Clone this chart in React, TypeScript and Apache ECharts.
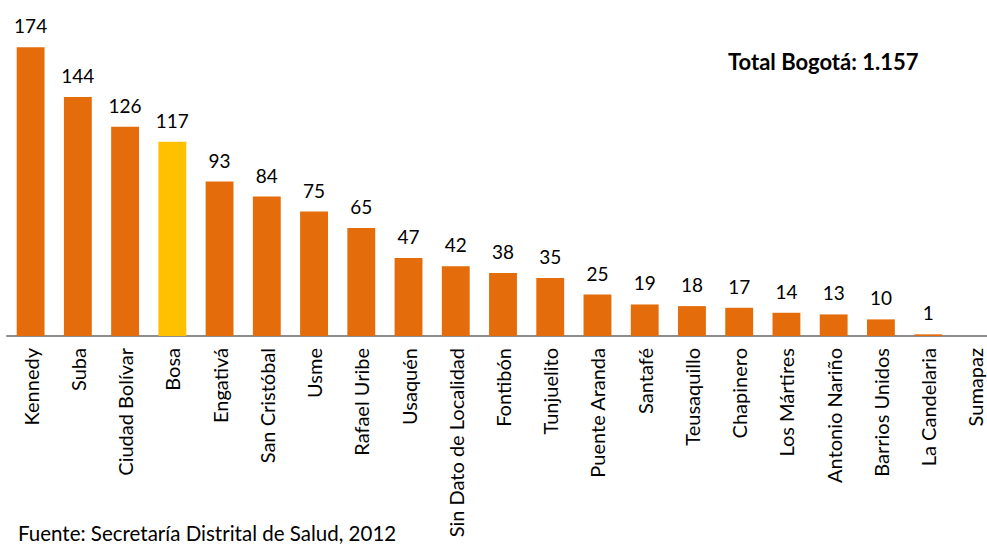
import React, { useEffect, useRef } from "react";
import * as echarts from "echarts";

const categories = [
  "Kennedy", "Suba", "Ciudad Bolívar", "Bosa", "Engativá", "San Cristóbal", "Usme",
  "Rafael Uribe", "Usaquén", "Sin Dato de Localidad", "Fontibón", "Tunjuelito",
  "Puente Aranda", "Santafé", "Teusaquillo", "Chapinero", "Los Mártires",
  "Antonio Nariño", "Barrios Unidos", "La Candelaria", "Sumapaz",
];
const values = [174, 144, 126, 117, 93, 84, 75, 65, 47, 42, 38, 35, 25, 19, 18, 17, 14, 13, 10, 1, 0];
const highlighted = "Bosa";
const totalText = "Total Bogotá: 1.157";
const sourceText = "Fuente: Secretaría Distrital de Salud, 2012";

const ORANGE = "#E46C0A";
const YELLOW = "#FFC000";
const FONT = "Lato";

export default function App() {
  const ref = useRef<HTMLDivElement>(null);
  useEffect(() => {
    document.body.style.margin = "0";
    const chart = echarts.init(ref.current!, null, { renderer: "svg" });
    chart.setOption({
      animation: false,
      backgroundColor: "#ffffff",
      grid: { left: 7, top: 4, width: 992, bottom: 210, containLabel: false, outerBoundsMode: "none" },
      xAxis: {
        type: "category",
        data: categories,
        axisLine: { show: true, lineStyle: { color: "#8c8c8c", width: 2 } },
        axisTick: { show: false },
        axisLabel: {
          rotate: 90,
          interval: 0,
          margin: 12,
          color: "#000",
          fontFamily: FONT,
          fontSize: 20,
        },
      },
      yAxis: {
        type: "value",
        min: 0,
        max: 200,
        show: false,
        splitLine: { show: false },
      },
      series: [
        {
          type: "bar",
          data: values.map((v, i) => ({
            value: v,
            itemStyle: { color: categories[i] === highlighted ? YELLOW : ORANGE },
            label: { show: v > 0 },
          })),
          barCategoryGap: "41%",
          label: {
            show: true,
            position: "top",
            distance: 12,
            color: "#000",
            fontFamily: FONT,
            fontSize: 19,
          },
        },
      ],
      graphic: [
        {
          type: "text",
          left: 728,
          top: 50,
          style: {
            text: totalText,
            fill: "#000",
            font: `bold 22px ${FONT}`,
          },
        },
        {
          type: "text",
          left: 18,
          top: 522,
          style: {
            text: sourceText,
            fill: "#000",
            font: `20.5px ${FONT}`,
          },
        },
      ],
    });
    return () => chart.dispose();
  }, []);
  return <div ref={ref} style={{ width: 987, height: 546 }} />;
}
